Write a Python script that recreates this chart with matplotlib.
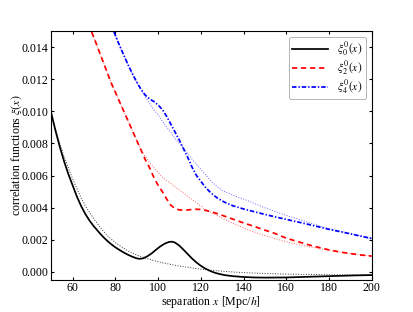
"""Correlation function multipoles with and without BAO feature."""

import matplotlib
matplotlib.use("Agg")
import matplotlib.pyplot as plt
import numpy as np


plt.rcParams.update({
    "font.family": "serif",
    "font.serif": ["Liberation Serif", "DejaVu Serif"],
    "mathtext.fontset": "stix",
    "font.size": 8.6,
    "xtick.direction": "in",
    "ytick.direction": "in",
    "xtick.top": True,
    "ytick.right": True,
    "xtick.major.size": 2.5,
    "ytick.major.size": 2.5,
    "xtick.major.pad": 1.8,
    "ytick.major.pad": 2.0,
    "axes.linewidth": 0.8,
})

# monopole, full model
x0 = [50, 52, 54, 56, 58, 60, 62, 64, 66, 68, 70, 72, 74, 76, 78, 80, 82, 84,
      86, 88, 90, 91.5, 93, 95, 97, 99, 101, 103, 105, 106.5, 108, 110, 112,
      114, 116, 118, 120, 122, 124, 126, 128, 131, 135, 140, 145, 150, 160,
      170, 180, 190, 200]
xi0 = [0.0099, 0.0088, 0.0078, 0.0069, 0.0061, 0.0054, 0.0047, 0.0041, 0.0036,
       0.00318, 0.00283, 0.00252, 0.00222, 0.00196, 0.00173, 0.00153, 0.00136,
       0.0012, 0.00106, 0.00094, 0.00084, 0.00081, 0.00084, 0.00097, 0.00115,
       0.00137, 0.00158, 0.00175, 0.00186, 0.00188, 0.00182, 0.00163, 0.00137,
       0.00109, 0.00082, 0.00058, 0.00038, 0.00021, 0.00008, -0.00003, -0.00011,
       -0.0002, -0.00027, -0.00032, -0.00035, -0.00036, -0.00035, -0.00031,
       -0.00027, -0.00023, -0.0002]

# monopole, no-wiggle
x0nw = [50, 52, 54, 56, 58, 60, 62, 64, 66, 68, 70, 72, 74, 76, 78, 80, 83, 86,
        90, 94, 98, 102, 106, 110, 115, 120, 125, 130, 135, 140, 150, 160, 170,
        180, 190, 200]
xi0nw = [0.0099, 0.0089, 0.008, 0.0072, 0.0065, 0.0058, 0.0052, 0.0046, 0.0041,
         0.0037, 0.0033, 0.00295, 0.0026, 0.0023, 0.00205, 0.00183, 0.00155,
         0.0013, 0.00105, 0.00086, 0.0007, 0.00057, 0.00046, 0.00036, 0.00026,
         0.00017, 0.0001, 0.00004, -0.00001, -0.00005, -0.0001, -0.00014,
         -0.00016, -0.00018, -0.00019, -0.0002]

# quadrupole, full model
x2 = [68.9, 70, 72, 74, 76, 78, 80, 82, 84, 86, 88, 90, 92, 94, 96, 98, 100,
      102, 104, 106, 108, 110, 112, 114, 116, 118, 120, 122, 125, 128, 132, 136,
      140, 145, 150, 155, 160, 165, 170, 175, 180, 185, 190, 195, 200]
xi2 = [0.01495, 0.0146, 0.0139, 0.0132, 0.0125, 0.0118, 0.0112, 0.0106, 0.0100,
       0.0094, 0.0088, 0.0082, 0.0076, 0.0070, 0.0065, 0.0059, 0.0054, 0.0050,
       0.00455, 0.00415, 0.00394, 0.00386, 0.00384, 0.00386, 0.00389, 0.0039,
       0.00389, 0.00384, 0.00374, 0.00362, 0.00343, 0.00324, 0.00305, 0.00283,
       0.0026, 0.00238, 0.0021, 0.0019, 0.0017, 0.00153, 0.00137, 0.00124,
       0.00114, 0.00105, 0.00098]

# quadrupole, no-wiggle
x2nw = [68.9, 70, 72, 74, 76, 78, 80, 82, 84, 86, 88, 90, 92, 94, 96, 98, 100,
        102, 104, 106, 108, 110, 113, 116, 119, 122, 126, 130, 135, 140, 145,
        150, 155, 160, 165, 170, 175, 180, 185, 190, 195, 200]
xi2nw = [0.01495, 0.0146, 0.0139, 0.0132, 0.0125, 0.0118, 0.0112, 0.0106, 0.0100,
         0.0094, 0.0088, 0.0082, 0.0076, 0.0072, 0.0068, 0.0065, 0.0062, 0.0059,
         0.0057, 0.0055, 0.0053, 0.0051, 0.0048, 0.0045, 0.0042, 0.0039, 0.00362,
         0.00335, 0.00303, 0.00274, 0.00248, 0.00226, 0.00206, 0.00188, 0.00172,
         0.00158, 0.00146, 0.00134, 0.00123, 0.00114, 0.00106, 0.00098]

# hexadecapole, full model
x4 = [79.4, 82, 84, 86, 88, 90, 92, 94, 96, 98, 100, 102, 104, 106, 108,
      110, 112, 114, 116, 118, 120, 122, 124, 126, 128, 131, 135, 140, 145, 150,
      155, 160, 165, 170, 175, 180, 185, 190, 195, 200]
xi4 = [0.01495, 0.0141, 0.0135, 0.0129, 0.01235, 0.01183, 0.01138, 0.01102,
       0.01078, 0.01062, 0.0104, 0.01012, 0.0097, 0.0092, 0.0087, 0.0082, 0.00765,
       0.0071, 0.0065, 0.0060, 0.00565, 0.0053, 0.00502, 0.00478, 0.00458,
       0.00435, 0.00412, 0.00392, 0.00375, 0.00358, 0.00342, 0.00327, 0.00312,
       0.00297, 0.00281, 0.00265, 0.00251, 0.00237, 0.00222, 0.00208]

# hexadecapole, no-wiggle
x4nw = [79.4, 82, 84, 86, 88, 90, 92, 94, 96, 98, 100, 102, 104, 106, 108,
        110, 112, 114, 116, 118, 120, 122, 124, 126, 128, 130, 135, 141.5, 148,
        155, 162, 170, 179, 190, 200]
xi4nw = [0.01495, 0.0141, 0.0135, 0.0129, 0.01235, 0.01183, 0.01138, 0.0109,
         0.0105, 0.0101, 0.0098, 0.0094, 0.0090, 0.0087, 0.0083, 0.0080, 0.0077,
         0.00735, 0.0070, 0.0067, 0.0064, 0.00608, 0.00578, 0.0055, 0.00528,
         0.00508, 0.00478, 0.00446, 0.0041, 0.00375, 0.00343, 0.0031, 0.00272,
         0.0024, 0.00208]

fig = plt.figure(figsize=(4.13, 3.12), dpi=100)
ax = fig.add_axes([0.124, 0.103, 0.776, 0.797])

ax.plot(x0, xi0, color="black", lw=1.25, label=r"$\xi^0_0(x)$")
ax.plot(x2, xi2, color="red", lw=1.25, ls=(0, (3, 2.2)), label=r"$\xi^0_2(x)$")
ax.plot(x4, xi4, color="blue", lw=1.25, ls=(0, (2.6, 1.1, 0.8, 1.1)),
        label=r"$\xi^0_4(x)$")
ax.plot(x0nw, xi0nw, color="black", lw=0.7, ls=":", alpha=0.8)
ax.plot(x2nw, xi2nw, color="red", lw=0.7, ls=":", alpha=0.6)
ax.plot(x4nw, xi4nw, color="blue", lw=0.7, ls=":", alpha=0.6)

ax.set_xlim(50, 200)
ax.set_ylim(-0.0005, 0.015)
ax.set_xticks(np.arange(60, 201, 20))
ax.set_yticks(np.arange(0, 0.0141, 0.002))
ax.yaxis.set_major_formatter(matplotlib.ticker.FormatStrFormatter("%.3f"))
ax.set_xlabel(r"separation $x$ [Mpc/$h$]", labelpad=0)
ax.set_ylabel(r"correlation functions $\xi(x)$", labelpad=-1.5)

leg = ax.legend(loc="upper right", fontsize=8.3, handlelength=3.1,
                handletextpad=0.8, borderpad=0.3, labelspacing=0.05,
                fancybox=True, framealpha=1, borderaxespad=0.5)
leg.get_frame().set_edgecolor("#aaaaaa")
leg.get_frame().set_linewidth(0.6)

fig.savefig("out.png", dpi=100)
